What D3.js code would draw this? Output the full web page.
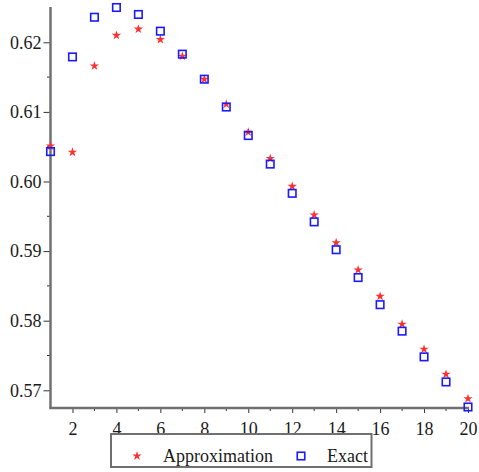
<!DOCTYPE html>
<html>
<head>
<meta charset="utf-8">
<script src="https://cdn.jsdelivr.net/npm/d3@7"></script>
<style>
  html, body { margin: 0; padding: 0; background: #fff; }
  svg { display: block; }
  text { font-family: "Liberation Serif", "Times New Roman", serif; }
</style>
</head>
<body>
<svg id="chart" width="479" height="472"></svg>
<script>
const xs = [1,2,3,4,5,6,7,8,9,10,11,12,13,14,15,16,17,18,19,20];
const approximation = [0.6051,0.6042,0.6166,0.6210,0.6219,0.6204,0.6180,0.6147,0.6111,0.6071,
                       0.6033,0.5993,0.5952,0.5912,0.5873,0.5835,0.5795,0.5759,0.5723,0.5688];
const exact = [0.6043,0.6179,0.6236,0.6250,0.6240,0.6216,0.6183,0.6147,0.6107,0.6066,
               0.6025,0.5983,0.5942,0.5902,0.5862,0.5823,0.5785,0.5748,0.5712,0.5676];
const xTickValues = [2,4,6,8,10,12,14,16,18,20];
const yTickValues = [0.57,0.58,0.59,0.60,0.61,0.62];
const yTickLabels = ["0.57","0.58","0.59","0.60","0.61","0.62"];
const seriesNames = ["Approximation","Exact"];

const svg = d3.select("#chart");
const axisColor = "#707070";
const starColor = "#ff3030";
const squareColor = "#1a1aff";

const x = d3.scaleLinear().domain([1, 20]).range([50.5, 468]);
const y = d3.scaleLinear().domain([0.567457, 0.624928]).range([408, 8]);

// Y axis
const yAxis = d3.axisLeft(y).tickValues(yTickValues)
  .tickFormat((d, i) => yTickLabels[i]).tickSize(7).tickSizeOuter(0).tickPadding(2);
const gy = svg.append("g").attr("transform", `translate(${x(1)},0)`).call(yAxis);
gy.select(".domain").remove();
gy.selectAll(".tick line").attr("stroke", "#333").attr("stroke-width", 1);
gy.selectAll(".tick text").attr("font-size", 18).attr("fill", "#1a1a1a")
  .attr("font-family", "Liberation Serif, Times New Roman, serif");
// minor y ticks
const yMinor = [0.575,0.585,0.595,0.605,0.615];
svg.append("g").selectAll("line").data(yMinor).join("line")
  .attr("x1", x(1) - 3.5).attr("x2", x(1)).attr("y1", d => y(d)).attr("y2", d => y(d))
  .attr("stroke", "#333").attr("stroke-width", 1);

// X axis
const xAxis = d3.axisBottom(x).tickValues(xTickValues).tickSize(5).tickSizeOuter(0).tickPadding(9);
const gx = svg.append("g").attr("transform", `translate(0,${y.range()[0]})`).call(xAxis);
gx.select(".domain").remove();
gx.selectAll(".tick line").attr("stroke", "#333").attr("stroke-width", 1);
gx.selectAll(".tick text").attr("font-size", 18).attr("fill", "#1a1a1a")
  .attr("font-family", "Liberation Serif, Times New Roman, serif");
const xMinor = xs.filter(d => d % 2 === 1 && d > 1);
svg.append("g").selectAll("line").data(xMinor).join("line")
  .attr("x1", d => x(d)).attr("x2", d => x(d)).attr("y1", y.range()[0]).attr("y2", y.range()[0] + 3)
  .attr("stroke", "#333").attr("stroke-width", 1);

// axis lines
svg.append("line").attr("x1", x(1)).attr("x2", x(1)).attr("y1", 7).attr("y2", y.range()[0] + 1)
  .attr("stroke", axisColor).attr("stroke-width", 2.5);
svg.append("line").attr("x1", x(1) - 1).attr("x2", x(20) + 1).attr("y1", y.range()[0]).attr("y2", y.range()[0])
  .attr("stroke", axisColor).attr("stroke-width", 2.5);

// marks
const star = d3.symbol().type(d3.symbolStar).size(27);
svg.append("g").selectAll("path").data(xs).join("path")
  .attr("d", star)
  .attr("transform", (d, i) => `translate(${x(d)},${y(approximation[i])})`)
  .attr("fill", starColor);

const sq = 7.5;
svg.append("g").selectAll("rect").data(xs).join("rect")
  .attr("x", d => x(d) - sq / 2)
  .attr("y", (d, i) => y(exact[i]) - sq / 2)
  .attr("width", sq).attr("height", sq)
  .attr("fill", "none").attr("stroke", squareColor).attr("stroke-width", 1.6);

// legend
const lg = svg.append("g");
lg.append("rect").attr("x", 111).attr("y", 434).attr("width", 260.5).attr("height", 33)
  .attr("fill", "#fff").attr("stroke", axisColor).attr("stroke-width", 2);
lg.append("path").attr("d", star).attr("transform", "translate(137,456)").attr("fill", starColor);
lg.append("text").attr("x", 163).attr("y", 461.5).attr("font-size", 18).attr("fill", "#1a1a1a")
  .text(seriesNames[0]);
lg.append("rect").attr("x", 301 - sq / 2).attr("y", 456 - sq / 2).attr("width", sq).attr("height", sq)
  .attr("fill", "none").attr("stroke", squareColor).attr("stroke-width", 1.6);
lg.append("text").attr("x", 327).attr("y", 461.5).attr("font-size", 18).attr("fill", "#1a1a1a")
  .text(seriesNames[1]);
</script>
</body>
</html>
